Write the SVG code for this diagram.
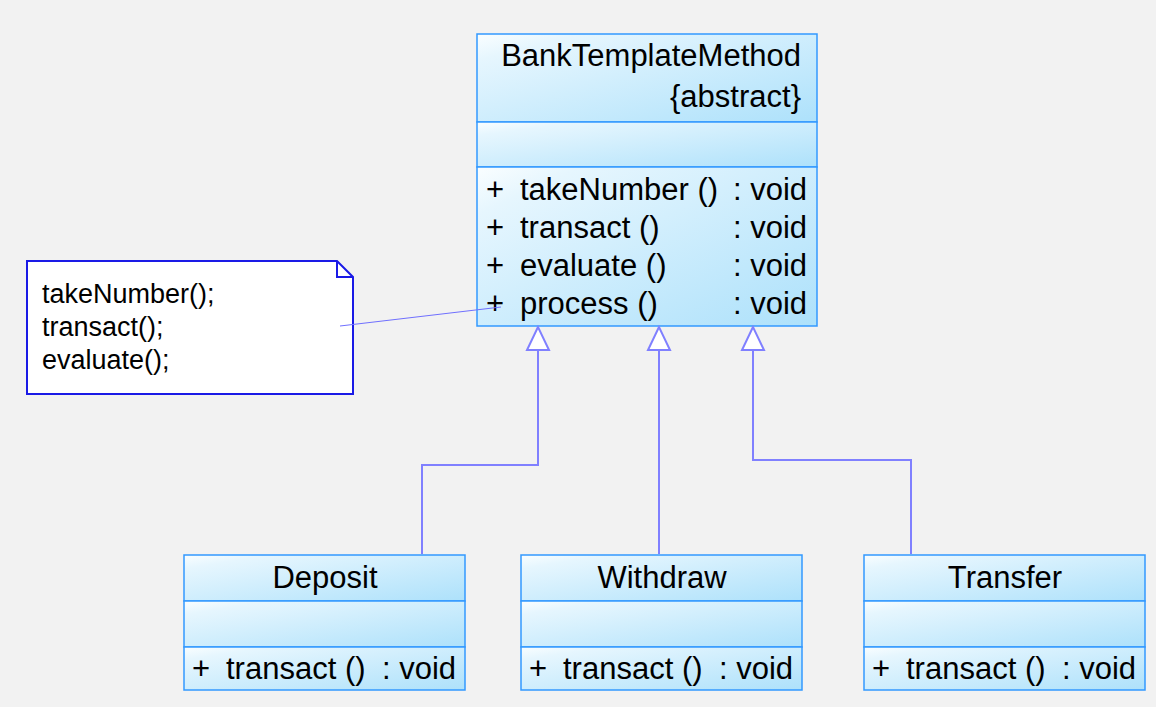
<svg xmlns="http://www.w3.org/2000/svg" width="1156" height="707" viewBox="0 0 1156 707">
<style>
.cmp{fill:url(#g);stroke:#3399ff;stroke-width:1.5}
.t{font-family:"Liberation Sans",Arial,sans-serif;font-size:31px;fill:#000}
.n{font-family:"Liberation Sans",Arial,sans-serif;font-size:27px;fill:#000}
.c{fill:none;stroke:#8080ff;stroke-width:2}
.h{fill:#fff;stroke:#8080ff;stroke-width:2}
</style>
<defs>
<linearGradient id="g" x1="0" y1="0" x2="1" y2="1">
<stop offset="0" stop-color="#fafeff"/>
<stop offset="0.15" stop-color="#e6f6fe"/>
<stop offset="1" stop-color="#ade1fb"/>
</linearGradient>
</defs>
<rect width="1156" height="707" fill="#f2f2f2"/>

<g id="BankTemplateMethod">
<rect class="cmp" x="477" y="34" width="340" height="88"/>
<rect class="cmp" x="477" y="122" width="340" height="45"/>
<rect class="cmp" x="477" y="167" width="340" height="159"/>
<text class="t" x="801" y="66" text-anchor="end">BankTemplateMethod</text>
<text class="t" x="801" y="107" text-anchor="end">{abstract}</text>
<text class="t" x="486" y="200">+</text><text class="t" x="520" y="200">takeNumber ()</text><text class="t" x="733" y="200">: void</text>
<text class="t" x="486" y="238">+</text><text class="t" x="520" y="238">transact ()</text><text class="t" x="733" y="238">: void</text>
<text class="t" x="486" y="276">+</text><text class="t" x="520" y="276">evaluate ()</text><text class="t" x="733" y="276">: void</text>
<text class="t" x="486" y="314">+</text><text class="t" x="520" y="314">process ()</text><text class="t" x="733" y="314">: void</text>
</g>

<g id="note">
<path d="M27,261 H337 L353,277 V394 H27 Z" fill="#fff" stroke="#1a1ae6" stroke-width="2"/>
<path d="M337,261 V277 H353" fill="none" stroke="#1a1ae6" stroke-width="2"/>
<text class="n" x="42" y="303">takeNumber();</text>
<text class="n" x="42" y="336">transact();</text>
<text class="n" x="42" y="369">evaluate();</text>
</g>

<g id="Deposit">
<rect class="cmp" x="184" y="555" width="281" height="46"/>
<rect class="cmp" x="184" y="601" width="281" height="46"/>
<rect class="cmp" x="184" y="647" width="281" height="43"/>
<text class="t" x="325" y="588" text-anchor="middle">Deposit</text>
<text class="t" x="192" y="679">+</text><text class="t" x="226" y="679">transact ()</text><text class="t" x="382" y="679">: void</text>
</g>

<g id="Withdraw">
<rect class="cmp" x="521" y="555" width="281" height="46"/>
<rect class="cmp" x="521" y="601" width="281" height="46"/>
<rect class="cmp" x="521" y="647" width="281" height="43"/>
<text class="t" x="662" y="588" text-anchor="middle">Withdraw</text>
<text class="t" x="529" y="679">+</text><text class="t" x="563" y="679">transact ()</text><text class="t" x="719" y="679">: void</text>
</g>

<g id="Transfer">
<rect class="cmp" x="864" y="555" width="281" height="46"/>
<rect class="cmp" x="864" y="601" width="281" height="46"/>
<rect class="cmp" x="864" y="647" width="281" height="43"/>
<text class="t" x="1005" y="588" text-anchor="middle">Transfer</text>
<text class="t" x="872" y="679">+</text><text class="t" x="906" y="679">transact ()</text><text class="t" x="1062" y="679">: void</text>
</g>

<g id="connectors">
<polyline class="c" points="422,554 422,465 538,465 538,350"/>
<polyline class="c" points="659,554 659,350"/>
<polyline class="c" points="911,554 911,460 753,460 753,350"/>
<polygon class="h" points="538,327 527,350 549,350"/>
<polygon class="h" points="659,327 648,350 670,350"/>
<polygon class="h" points="753,327 742,350 764,350"/>
<line x1="340" y1="326" x2="501" y2="307" stroke="#7070ff" stroke-width="1"/>
</g>
</svg>
